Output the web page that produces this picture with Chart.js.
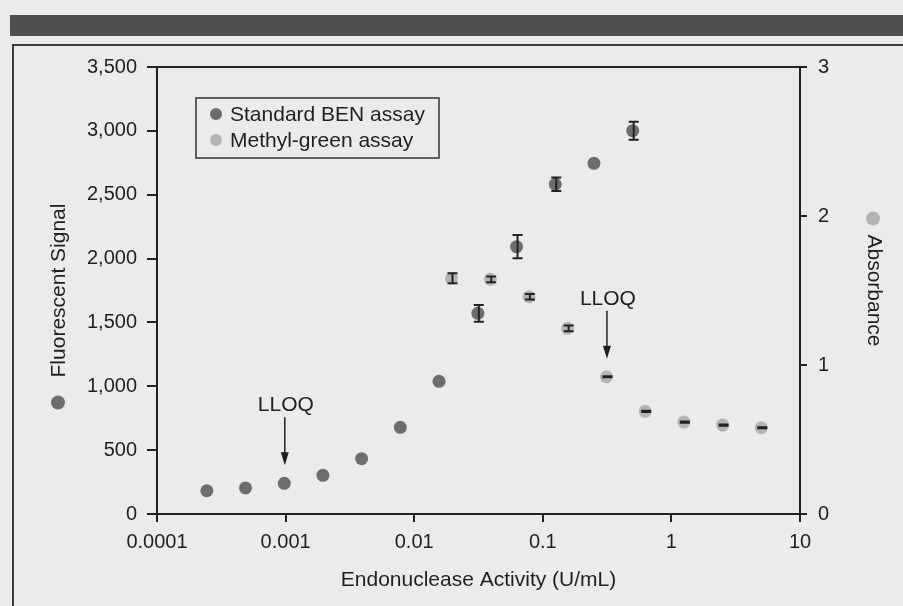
<!DOCTYPE html>
<html>
<head>
<meta charset="utf-8">
<title>Endonuclease assays</title>
<script src="https://cdn.jsdelivr.net/npm/chart.js@4.4.1/dist/chart.umd.min.js"></script>
<style>
  html, body { margin: 0; padding: 0; background: #ebebeb; }
  #wrap { position: relative; width: 903px; height: 606px; overflow: hidden; }
  #bar { position: absolute; left: 10px; top: 15px; width: 893px; height: 21px; background: #4f4f4f; }
  #frame { position: absolute; left: 12px; top: 44px; width: 900px; height: 600px;
           border-left: 2px solid #3a3a3a; border-top: 2px solid #3a3a3a; }
  canvas { position: absolute; left: 0; top: 0; }
</style>
</head>
<body>
<div id="wrap">
  <div id="bar"></div>
  <div id="frame"></div>
  <canvas id="chart" width="903" height="606"></canvas>
</div>
<script>
// --- data ---
const benLabel = 'Standard BEN assay';
const benX   = [0.000244, 0.000488, 0.000977, 0.00195, 0.0039, 0.0078, 0.0156, 0.03125, 0.0625, 0.125, 0.25, 0.5];
const benY   = [182, 204, 240, 303, 433, 679, 1039, 1571, 2093, 2582, 2746, 3001];
const benErr = [null, null, null, null, null, null, null, 65, 91, 52, null, 70];

const mgLabel = 'Methyl-green assay';
const mgX   = [0.0195, 0.039, 0.078, 0.156, 0.3125, 0.625, 1.25, 2.5, 5];
const mgY   = [1.582, 1.575, 1.458, 1.246, 0.921, 0.689, 0.617, 0.597, 0.579];
const mgErr = [0.034, 0.019, 0.018, 0.019, 0.004, 0.004, 0.004, 0.004, 0.004];

const xTicks = [0.0001, 0.001, 0.01, 0.1, 1, 10];
const xTickLabels = ['0.0001', '0.001', '0.01', '0.1', '1', '10'];
const xTitle = 'Endonuclease Activity (U/mL)';
const yTitle = 'Fluorescent Signal';
const y1Title = 'Absorbance';

// LLOQ markers: which dataset and which x they point at
const lloqText = 'LLOQ';
const lloqSet = [0, 1];
const lloqX = [0.000977, 0.3125];

// --- styles ---
const TEXT = '#1f1f1f';
const LINE = '#222222';
const DARK = '#6d6d6d';
const LIGHT = '#b4b4b4';
const FONT = "'Liberation Sans', Arial, Helvetica, sans-serif";

Chart.defaults.font.family = FONT;
Chart.defaults.color = TEXT;

const toPoints = (xs, ys, es) => xs.map((x, i) => ({ x: x, y: ys[i], err: es[i] }));

// error bars drawn over the dots
const errorBars = {
  id: 'errorBars',
  afterDatasetsDraw(chart) {
    const ctx = chart.ctx;
    ctx.save();
    ctx.strokeStyle = LINE;
    ctx.lineWidth = 2;
    ctx.lineCap = 'butt';
    chart.data.datasets.forEach((ds, i) => {
      const meta = chart.getDatasetMeta(i);
      const ys = chart.scales[ds.yAxisID];
      ds.data.forEach((p, j) => {
        if (p.err == null) return;
        const x = meta.data[j].x + 1;
        const top = ys.getPixelForValue(p.y + p.err);
        const bot = ys.getPixelForValue(p.y - p.err);
        ctx.beginPath();
        ctx.moveTo(x, top); ctx.lineTo(x, bot);
        ctx.moveTo(x - 5, top); ctx.lineTo(x + 5, top);
        ctx.moveTo(x - 5, bot); ctx.lineTo(x + 5, bot);
        ctx.stroke();
      });
    });
    ctx.restore();
  }
};

// top frame line, legend box, axis colour dots, LLOQ arrows
const extras = {
  id: 'extras',
  afterDraw(chart) {
    const ctx = chart.ctx;
    const a = chart.chartArea;
    ctx.save();

    // top line of the plot box
    ctx.strokeStyle = LINE;
    ctx.lineWidth = 2;
    ctx.beginPath();
    ctx.moveTo(a.left - 1, a.top); ctx.lineTo(a.right + 1, a.top);
    ctx.stroke();

    // legend
    const lx = a.left + 39, ly = a.top + 31;
    ctx.lineWidth = 1.5;
    ctx.strokeStyle = '#333';
    ctx.strokeRect(lx, ly, 243, 60);
    ctx.font = '21px ' + FONT;
    ctx.textBaseline = 'middle';
    ctx.textAlign = 'left';
    chart.data.datasets.forEach((ds, i) => {
      const cy = ly + 16 + i * 26;
      ctx.fillStyle = ds.backgroundColor;
      ctx.beginPath(); ctx.arc(lx + 20, cy, 6, 0, Math.PI * 2); ctx.fill();
      ctx.fillStyle = TEXT;
      ctx.fillText(ds.label, lx + 34, cy + 1);
    });

    // dots next to axis titles
    const midY = (a.top + a.bottom) / 2;
    ctx.fillStyle = DARK;
    ctx.beginPath(); ctx.arc(58, midY + 112, 7, 0, Math.PI * 2); ctx.fill();
    ctx.fillStyle = LIGHT;
    ctx.beginPath(); ctx.arc(873, midY - 72, 7, 0, Math.PI * 2); ctx.fill();

    // LLOQ arrows
    ctx.strokeStyle = LINE;
    ctx.fillStyle = TEXT;
    ctx.lineWidth = 1.5;
    ctx.textAlign = 'center';
    lloqSet.forEach((di, k) => {
      const ds = chart.data.datasets[di];
      const idx = ds.data.findIndex(p => p.x === lloqX[k]);
      const el = chart.getDatasetMeta(di).data[idx];
      const x = el.x + 0.5, y = el.y;
      ctx.beginPath();
      ctx.moveTo(x, y - 66); ctx.lineTo(x, y - 28);
      ctx.stroke();
      ctx.beginPath();
      ctx.moveTo(x - 4, y - 31); ctx.lineTo(x + 4, y - 31); ctx.lineTo(x, y - 18);
      ctx.closePath(); ctx.fill();
      ctx.fillText(lloqText, x + 1, y - 78);
    });
    ctx.restore();
  }
};

new Chart(document.getElementById('chart'), {
  type: 'scatter',
  data: {
    datasets: [
      { label: benLabel, data: toPoints(benX, benY, benErr), yAxisID: 'y',
        backgroundColor: DARK, borderWidth: 0, pointRadius: 6.5 },
      { label: mgLabel, data: toPoints(mgX, mgY, mgErr), yAxisID: 'y1',
        backgroundColor: LIGHT, borderWidth: 0, pointRadius: 6.5 }
    ]
  },
  options: {
    responsive: false,
    animation: false,
    devicePixelRatio: 1,
    layout: { padding: { left: 0, right: 0, top: 67, bottom: 0 } },
    plugins: { legend: { display: false }, tooltip: { enabled: false } },
    scales: {
      x: {
        type: 'logarithmic', position: 'bottom', min: 0.0001, max: 10,
        afterBuildTicks: s => { s.ticks = xTicks.map(v => ({ value: v })); },
        afterFit: s => { s.height = 92; },
        ticks: { callback: (v, i) => xTickLabels[i], font: { size: 20 }, color: TEXT,
                 padding: 8, maxRotation: 0, autoSkip: false },
        grid: { drawOnChartArea: false, color: LINE, lineWidth: 2, tickLength: 8 },
        border: { color: LINE, width: 2 },
        title: { display: true, text: xTitle, font: { size: 21 }, color: TEXT,
                 padding: { top: 0, bottom: 13 } }
      },
      y: {
        position: 'left', min: 0, max: 3500,
        afterFit: s => { s.width = 157; },
        ticks: { stepSize: 500, callback: v => v.toLocaleString('en-US'),
                 font: { size: 20 }, color: TEXT, padding: 10 },
        grid: { drawOnChartArea: false, color: LINE, lineWidth: 2, tickLength: 10 },
        border: { color: LINE, width: 2 },
        title: { display: true, text: yTitle, font: { size: 21 }, color: TEXT,
                 padding: { top: 47, bottom: 0 } }
      },
      y1: {
        position: 'right', min: 0, max: 3,
        afterFit: s => { s.width = 103; },
        ticks: { stepSize: 1, font: { size: 20 }, color: TEXT, padding: 11 },
        grid: { drawOnChartArea: false, color: LINE, lineWidth: 2, tickLength: 7 },
        border: { color: LINE, width: 2 },
        title: { display: true, text: y1Title, font: { size: 21 }, color: TEXT,
                 padding: { top: 17, bottom: 0 } }
      }
    }
  },
  plugins: [errorBars, extras]
});
</script>
</body>
</html>
